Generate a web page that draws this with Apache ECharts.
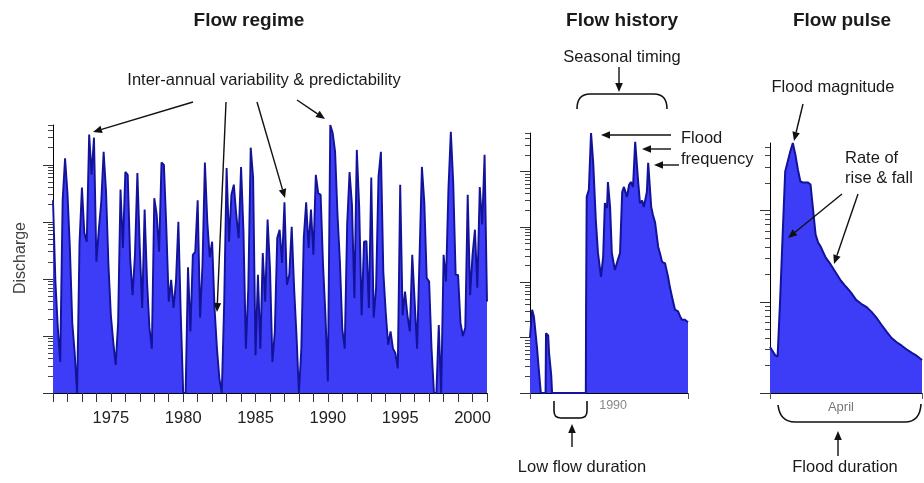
<!DOCTYPE html>
<html>
<head>
<meta charset="utf-8">
<script src="https://cdn.jsdelivr.net/npm/echarts@6/dist/echarts.min.js"></script>
<style>
html,body{margin:0;padding:0;background:#fff;}
#chart{width:924px;height:483px;}
</style>
</head>
<body>
<div id="chart"></div>
<script>
// ---------- DATA ----------
// Flow regime: discharge sampled every 2 months, 1971-2001
const regimeStartYear = 1971;
const regimeSamplesPerYear = 6;
const regimeFlow = [
  2400, 90, 14, 3.5, 2400, 13000, 3200, 350, 17, 5,
  1, 430, 4000, 640, 450, 34000, 6700, 30000, 200, 730,
  2200, 17000, 3400, 177, 23, 7.8, 3.1, 17, 3700, 350,
  7500, 6700, 230, 52, 265, 7200, 350, 31, 1640, 90,
  14, 6, 2600, 1350, 300, 11000, 10000, 800, 40, 96,
  31, 90, 1000, 23, 1, 1, 160, 12, 265, 300,
  2400, 21, 177, 11000, 1000, 240, 450, 31, 6, 1.8,
  1, 38, 8800, 450, 3000, 4500, 1350, 520, 9200, 670,
  6, 70, 20000, 6000, 4.6, 118, 6, 285, 40, 1100,
  155, 3.5, 12, 520, 730, 190, 2200, 79, 118, 820,
  70, 10, 1, 6, 520, 2200, 350, 1640, 265, 6700,
  3200, 3000, 177, 23, 1.6, 50000, 36000, 17000, 1350, 200,
  13, 6, 900, 7500, 2000, 46, 18300, 1800, 23, 450,
  460, 31, 6000, 21, 70, 6200, 17000, 133, 26, 7,
  12, 6, 5, 2.7, 4500, 23, 60, 23, 12, 265,
  40, 6, 230, 9200, 2200, 104, 90, 6, 1, 1,
  15.6, 1, 265, 90, 3700, 38000, 4800, 118, 118, 17,
  10, 14, 3000, 52, 265, 730, 70, 4100, 900, 15000,
  40
];
const regimeYears = regimeFlow.map((_, i) => regimeStartYear + i / regimeSamplesPerYear);
const regimeLabelYears = [1975, 1980, 1985, 1990, 1995, 2000];

// Flow history: one water year (day of year, discharge)
const historyDays = [0, 5, 9, 16, 21, 25, 36, 37, 42, 44, 49, 51, 129, 129.5, 131, 136, 141, 146, 152, 157,
  164, 169, 173, 178, 180, 185, 189, 196, 203, 208, 213, 217, 224, 229, 233, 238, 243, 249, 254, 259,
  263, 270, 273, 280, 284, 289, 296, 300, 305, 312, 319, 323, 328, 335, 342, 347, 351, 358, 365];
const historyFlow = [10, 32, 24, 6.8, 2.3, 1, 1, 12, 11, 5.3, 2.1, 1, 1, 28, 3500, 4700, 50000, 14400, 1340, 340,
  125, 290, 2700, 2200, 6500, 2300, 340, 167, 255, 340, 4300, 5300, 3500, 5800, 6500, 5300, 34500, 8000, 2700, 3000,
  2300, 4300, 14400, 2300, 1650, 1200, 440, 340, 235, 220, 125, 83, 55, 32, 30, 24, 21, 21, 19];
const historyTickLabel = '1990';
const historyLabelDay = 192;

// Flow pulse: days of April, discharge
const pulseDays = [0, 1, 1.5, 2, 2.5, 3, 3.5, 4, 4.5, 5, 5.5, 6, 6.5, 7.5, 8, 8.5, 9, 9.5, 10, 11,
  12, 13, 14, 15, 16, 17, 18, 19, 20, 21, 22, 23, 24, 25, 26, 27, 28, 29, 30];
const pulseFlow = [32, 26, 25, 105, 545, 2680, 3450, 4440, 5500, 4120, 2820, 2080, 2030, 2030, 1930, 1025, 545, 445, 402, 305,
  255, 208, 170, 146, 126, 105, 95, 88, 78, 67, 56, 47, 40, 36, 33, 30, 27.5, 25.5, 23];
const pulseTickLabel = 'April';
const pulseLabelDay = 14;

// ---------- STYLE ----------
const FONT = '"Liberation Sans", Arial, Helvetica, sans-serif';
const FILL = '#3d3df8';
const LINE = '#12129a';
const INK = '#1a1a1a';

function logTicks(min, max) {
  const major = [], minor = [];
  for (let d = 1; d <= max; d *= 10) {
    if (d >= min) major.push(Math.log10(d));
    for (let k = 2; k <= 9; k++) {
      const v = k * d;
      if (v > min && v <= max * 1.0001) minor.push(Math.log10(v));
    }
  }
  return { major, minor };
}

function yAxesFor(gridIndex, min, max) {
  const t = logTicks(min, max);
  const lmin = Math.log10(min), lmax = Math.log10(max);
  return [
    { type: 'log', logBase: 10, gridIndex, min, max, position: 'left',
      axisLine: { show: true, lineStyle: { color: '#000', width: 1 } },
      axisTick: { show: false }, axisLabel: { show: false }, splitLine: { show: false } },
    { type: 'value', gridIndex, min: lmin, max: lmax, position: 'left', offset: 0,
      axisLine: { show: false }, axisLabel: { show: false }, splitLine: { show: false },
      axisTick: { show: true, length: 10, customValues: t.major, lineStyle: { color: '#333' } } },
    { type: 'value', gridIndex, min: lmin, max: lmax, position: 'left', offset: 0,
      axisLine: { show: false }, axisLabel: { show: false }, splitLine: { show: false },
      axisTick: { show: true, length: 5, customValues: t.minor, lineStyle: { color: '#444' } } }
  ];
}

function arrow(x1, y1, x2, y2) {
  const dx = x2 - x1, dy = y2 - y1, len = Math.hypot(dx, dy);
  const ux = dx / len, uy = dy / len;
  const hl = 9, hw = 3.8;
  const bx = x2 - ux * hl, by = y2 - uy * hl;
  return [
    { type: 'line', z: 100, shape: { x1, y1, x2: bx, y2: by }, style: { stroke: '#111', lineWidth: 1.4 } },
    { type: 'polygon', z: 100, shape: { points: [[x2, y2], [bx - uy * hw, by + ux * hw], [bx + uy * hw, by - ux * hw]] }, style: { fill: '#111' } }
  ];
}
function txt(text, x, y, opt) {
  opt = opt || {};
  return { type: 'text', z: 100, style: {
    text, x, y, fill: opt.fill || INK,
    font: (opt.bold ? 'bold ' : '') + (opt.size || 16.5) + 'px ' + FONT,
    align: opt.align || 'center', verticalAlign: 'middle'
  } };
}
const BR = { stroke: '#111', lineWidth: 1.6, fill: null };
function curve(x1, y1, cx, cy, x2, y2) {
  return { type: 'bezierCurve', z: 100, shape: { x1, y1, cpx1: cx, cpy1: cy, x2, y2 }, style: BR };
}
function seg(x1, y1, x2, y2) {
  return { type: 'line', z: 100, shape: { x1, y1, x2, y2 }, style: BR };
}

const chart = echarts.init(document.getElementById('chart'), null, { renderer: 'canvas' });

const option = {
  animation: false,
  backgroundColor: '#fff',
  textStyle: { fontFamily: FONT },
  grid: [
    { left: 53, top: 125, width: 434, height: 268, containLabel: false },
    { left: 530, top: 133, width: 158, height: 260, containLabel: false },
    { left: 770, top: 143, width: 152, height: 250, containLabel: false }
  ],
  xAxis: [
    { type: 'value', gridIndex: 0, min: 1971, max: 2001, interval: 1,
      axisLine: { lineStyle: { color: '#000' } },
      axisTick: { length: 9, lineStyle: { color: '#333' } },
      splitLine: { show: false },
      axisLabel: { margin: 17, fontSize: 16.5, color: '#222', fontFamily: FONT,
        formatter: v => regimeLabelYears.includes(v) ? String(v) : '' } },
    { type: 'value', gridIndex: 1, min: 0, max: 365,
      axisLine: { lineStyle: { color: '#000' } },
      axisTick: { length: 6, customValues: [0, 365], lineStyle: { color: '#555' } },
      splitLine: { show: false },
      axisLabel: { customValues: [historyLabelDay], margin: 6, fontSize: 12.5, color: '#888', fontFamily: FONT,
        formatter: () => historyTickLabel } },
    { type: 'value', gridIndex: 2, min: 0, max: 30,
      axisLine: { lineStyle: { color: '#000' } },
      axisTick: { length: 6, customValues: [0, 30], lineStyle: { color: '#555' } },
      splitLine: { show: false },
      axisLabel: { customValues: [pulseLabelDay], margin: 8, fontSize: 13, color: '#777', fontFamily: FONT,
        formatter: () => pulseTickLabel } }
  ],
  yAxis: [].concat(
    yAxesFor(0, 1, 50000),
    yAxesFor(1, 1, 50000),
    yAxesFor(2, 10, 5500)
  ),
  series: [
    { type: 'line', xAxisIndex: 0, yAxisIndex: 0, showSymbol: false, symbol: 'none',
      data: regimeYears.map((x, i) => [x, regimeFlow[i]]),
      lineStyle: { color: LINE, width: 1.9 }, areaStyle: { color: FILL, opacity: 1 } },
    { type: 'line', xAxisIndex: 1, yAxisIndex: 3, showSymbol: false, symbol: 'none',
      data: historyDays.map((x, i) => [x, historyFlow[i]]),
      lineStyle: { color: LINE, width: 2 }, areaStyle: { color: FILL, opacity: 1 } },
    { type: 'line', xAxisIndex: 2, yAxisIndex: 6, showSymbol: false, symbol: 'none',
      data: pulseDays.map((x, i) => [x, pulseFlow[i]]),
      lineStyle: { color: LINE, width: 2 }, areaStyle: { color: FILL, opacity: 1 } }
  ],
  graphic: [].concat(
    [{ type: 'text', z: 100, rotation: Math.PI / 2, x: 21, y: 258,
       style: { text: 'Discharge', x: 0, y: 0, fill: '#444', font: '16px ' + FONT, align: 'center', verticalAlign: 'middle' } }],
    [txt('Flow regime', 249, 21, { bold: true, size: 19 }),
     txt('Flow history', 622, 21, { bold: true, size: 19 }),
     txt('Flow pulse', 842, 21, { bold: true, size: 19 })],
    [txt('Inter-annual variability & predictability', 264, 80),
     txt('Seasonal timing', 622, 57),
     txt('Flood', 681, 138, { align: 'left' }),
     txt('frequency', 681, 159, { align: 'left' }),
     txt('Low flow duration', 582, 467),
     txt('Flood magnitude', 833, 87),
     txt('Rate of', 845, 158, { align: 'left' }),
     txt('rise & fall', 845, 178, { align: 'left' }),
     txt('Flood duration', 845, 467)],
    arrow(193, 102, 93, 132),
    arrow(226, 102, 217, 312),
    arrow(257, 102, 285, 198),
    arrow(297, 100, 325, 119),
    arrow(619, 67, 619, 92),
    arrow(671, 135, 601, 135),
    arrow(671, 149, 642, 149),
    arrow(679, 165, 654, 165),
    arrow(572, 447, 572, 424),
    arrow(803, 104, 794, 141),
    arrow(842, 194, 788, 238),
    arrow(858, 194, 834, 264),
    arrow(838, 456, 838, 431),
    [curve(577, 109, 577, 94, 590, 94), seg(590, 94, 654, 94), curve(654, 94, 667, 94, 667, 109),
     seg(554, 401, 554, 411), curve(554, 411, 554, 418, 561, 418), seg(561, 418, 580, 418),
     curve(580, 418, 587, 418, 587, 411), seg(587, 411, 587, 401),
     curve(778, 405, 780, 422, 795, 422), seg(795, 422, 905, 422), curve(905, 422, 920, 422, 921, 404)]
  )
};
chart.setOption(option);
</script>
</body>
</html>
